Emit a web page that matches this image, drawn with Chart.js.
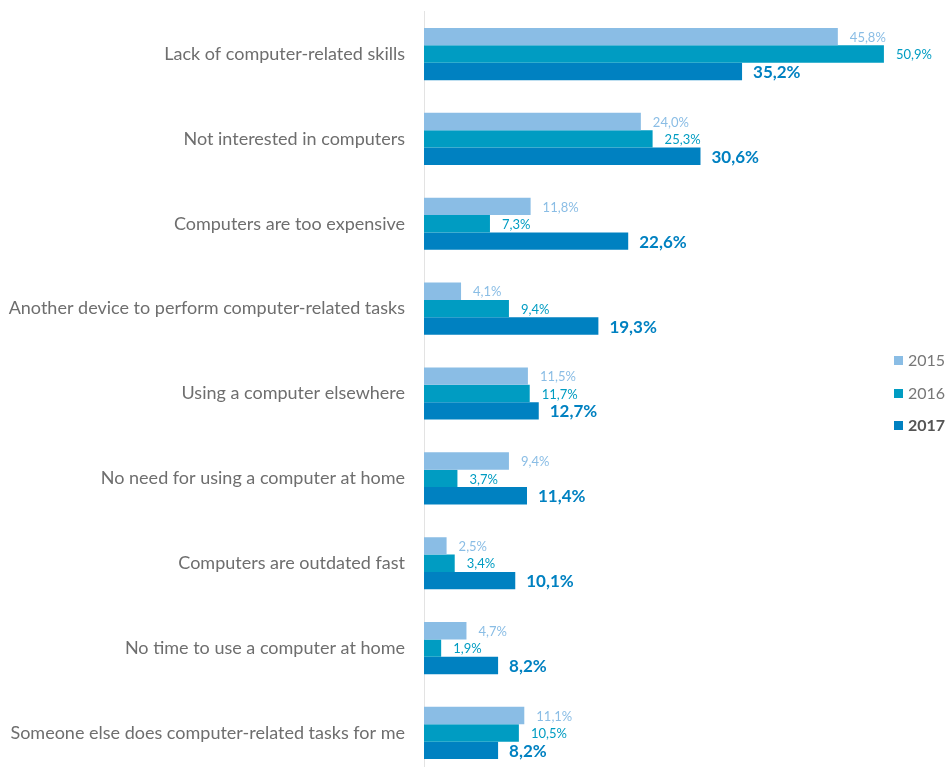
<!DOCTYPE html>
<html><head><meta charset="utf-8">
<script src="https://cdn.jsdelivr.net/npm/chart.js@4"></script>
<style>html,body{margin:0;padding:0;background:#fff;overflow:hidden}canvas{display:block}</style>
</head><body><canvas id="c" width="950" height="790" style="width:950px;height:790px"></canvas>
<script>
const categories = ["Lack of computer-related skills","Not interested in computers","Computers are too expensive","Another device to perform computer-related tasks","Using a computer elsewhere","No need for using a computer at home","Computers are outdated fast","No time to use a computer at home","Someone else does computer-related tasks for me"];
const seriesNames = ["2015","2016","2017"];
const values2015 = [45.8,24.0,11.8,4.1,11.5,9.4,2.5,4.7,11.1];
const values2016 = [50.9,25.3,7.3,9.4,11.7,3.7,3.4,1.9,10.5];
const values2017 = [35.2,30.6,22.6,19.3,12.7,11.4,10.1,8.2,8.2];
const colors = ["#8ABDE5","#009CC2","#0081C1"];
const FONT = "Lato, 'Open Sans', sans-serif";

const labelPlugin = {
  id:'vals',
  afterDatasetsDraw(chart){
    const ctx = chart.ctx;
    chart.data.datasets.forEach((ds,di)=>{
      const meta = chart.getDatasetMeta(di);
      meta.data.forEach((bar,i)=>{
        const v = ds.data[i];
        ctx.save();
        ctx.fillStyle = colors[di];
        ctx.font = di===2 ? "bold 17px "+FONT : "13px "+FONT;
        ctx.textBaseline = 'middle';
        ctx.textAlign = 'left';
        ctx.fillText(v.toFixed(1).replace('.',',')+'%', bar.x + (di===2?11:12), bar.y+1);
        ctx.restore();
      });
    });
  }
};
const legendPlugin = {
  id:'leg',
  afterDraw(chart){
    const ctx = chart.ctx;
    const ys = [361,394,426];
    seriesNames.forEach((n,i)=>{
      ctx.save();
      ctx.fillStyle = colors[i];
      ctx.fillRect(894, ys[i]-5, 9, 9);
      ctx.fillStyle = i===2 ? "#555" : "#777";
      ctx.font = (i===2?"bold ":"")+"16px "+FONT;
      ctx.textBaseline='middle';
      ctx.fillText(n, 908, ys[i]);
      ctx.restore();
    });
  }
};

new Chart(document.getElementById('c'), {
  type:'bar',
  data:{
    labels:categories,
    datasets:[
      {label:seriesNames[0], data:values2015, backgroundColor:colors[0]},
      {label:seriesNames[1], data:values2016, backgroundColor:colors[1]},
      {label:seriesNames[2], data:values2017, backgroundColor:colors[2]}
    ]
  },
  options:{
    indexAxis:'y',
    responsive:false,
    animation:false,
    datasets:{bar:{categoryPercentage:0.615, barPercentage:1.0}},
    layout:{padding:{top:11.6,bottom:14.6,left:0,right:20}},
    plugins:{legend:{display:false}, tooltip:{enabled:false}},
    scales:{
      x:{display:false, min:0, max:56},
      y:{
        afterFit(s){ s.width = 424; s.paddingTop = 0; s.paddingBottom = 0; },
        grid:{display:true, color:'transparent', drawTicks:false},
        border:{display:true, color:'#e3e3e3', width:1},
        ticks:{color:'#6e6e6e', font:{family:FONT, size:18}, padding:19}
      }
    }
  },
  plugins:[labelPlugin, legendPlugin]
});
</script></body></html>
